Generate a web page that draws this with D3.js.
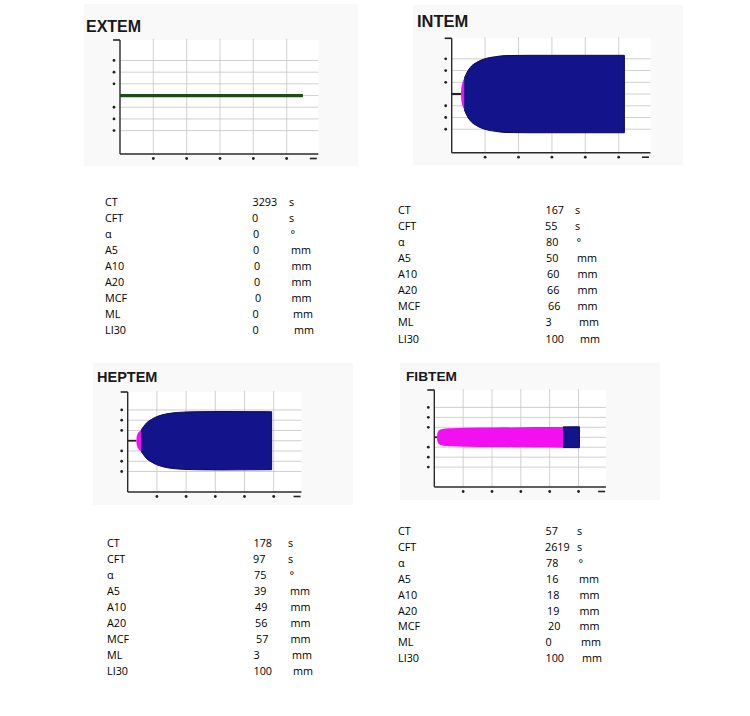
<!DOCTYPE html>
<html>
<head>
<meta charset="utf-8">
<script src="https://d3js.org/d3.v7.min.js"></script>
<style>
  body { margin: 0; background: #ffffff; }
  .title { font-family: "Liberation Sans", Arial, sans-serif; font-weight: bold; fill: #1a1a1a; }
  .tbl { font-family: "Open Sans", sans-serif; font-size: 10.8px; fill: #000; }
</style>
</head>
<body>
<div id="chart"></div>
<script>
// parameter table
var params = ["CT", "CFT", "α", "A5", "A10", "A20", "MCF", "ML", "LI30"];
var units = ["s", "s", "°", "mm", "mm", "mm", "mm", "mm", "mm"];

var extemValues = [3293, 0, 0, 0, 0, 0, 0, 0, 0];
var intemValues = [167, 55, 80, 50, 60, 66, 66, 3, 100];
var heptemValues = [178, 97, 75, 39, 49, 56, 57, 3, 100];
var fibtemValues = [57, 2619, 78, 16, 18, 19, 20, 0, 100];

// temogram amplitude: [minutes, mm]
var extemCurve = [];
var intemCurve = [[2.78, 0], [2.85, 8], [3.0, 14], [3.3, 21], [3.7, 26], [4.5, 36], [5.5, 45],
  [7.5, 54], [10.5, 61], [13, 63.5], [16, 65.5], [22.8, 66], [40, 66], [51.7, 66]];
var heptemCurve = [[2.97, 0], [3.05, 7], [3.3, 12], [3.8, 17], [4.58, 21], [5.5, 28], [6.5, 35],
  [8, 41], [10, 47], [13, 52], [17, 55], [23, 56.5], [32, 57], [49.3, 56.5]];
var fibtemCurve = [[0.95, 0], [1.0, 6], [1.2, 10], [1.7, 14], [2.5, 16], [4, 17.5], [6, 18],
  [11, 19], [21, 19.5], [35, 20.5], [50.3, 21]];

// axis ticks (minutes / mm)
var xTicks = [10, 20, 30, 40, 50];
var xEndTick = 58;
var yTicks = [-60, -40, -20, 20, 40, 60];
var yGrid = [-60, -40, -20, 0, 20, 40, 60];

// shared little offsets of the table columns
var valueDx = [0.5, 0, 1, 1, 2, 2, 3, 0.5, 0.5];
var unitDx = [0, 0, 1.5, 2, 2.5, 2.5, 2.5, 4, 5];

var panels = [
  { name: "EXTEM", values: extemValues, curve: extemCurve, base: "#1f4c16", baseW: 3.2,
    box: [84, 4, 274, 162], title: [86, 32, 16],
    x0: 120, step: 33.33, yTop: 40, yBot: 154,
    tbl: { x: 105, y: 206.4, dy: 15.9, vx: 252, ux: 289 } },
  { name: "INTEM", values: intemValues, curve: intemCurve, base: "#222", baseW: 2.2,
    box: [413, 5, 270, 160], title: [417, 27, 16.5],
    x0: 451.7, step: 33.4, yTop: 38.3, yBot: 152.7,
    tbl: { x: 398, y: 213.7, dy: 16.1, vx: 545, ux: 575 } },
  { name: "HEPTEM", values: heptemValues, curve: heptemCurve, base: "#222", baseW: 1.8,
    box: [93, 363, 260, 142], title: [97, 382, 14.5],
    x0: 127.7, step: 29.2, yTop: 392, yBot: 492,
    tbl: { x: 107, y: 547, dy: 16.05, vx: 253, ux: 288 } },
  { name: "FIBTEM", values: fibtemValues, curve: fibtemCurve, base: "#222", baseW: 1.8,
    box: [400, 363, 260, 137], title: [406, 381, 13.7],
    x0: 434.3, step: 28.85, yTop: 390, yBot: 487,
    tbl: { x: 398, y: 535.4, dy: 15.83, vx: 545, ux: 577 } }
];

var svg = d3.select("#chart")
  .append("svg")
    .attr("width", 750)
    .attr("height", 716);

var blue = "#13138c";
var pink = "#f20ff0";

panels.forEach(function (p, i) {
  var g = svg.append("g");

  var x = d3.scaleLinear()
    .domain([0, 60])
    .range([p.x0, p.x0 + 6 * p.step]);

  var y = d3.scaleLinear()
    .domain([-100, 95])
    .range([p.yBot, p.yTop]);

  // faint panel background
  g.append("rect")
    .attr("x", p.box[0])
    .attr("y", p.box[1])
    .attr("width", p.box[2])
    .attr("height", p.box[3])
    .attr("fill", "#f9f9f9");

  g.append("rect")
    .attr("x", p.x0)
    .attr("y", p.yTop)
    .attr("width", x(59.5) - p.x0)
    .attr("height", p.yBot - p.yTop)
    .attr("fill", "#ffffff");

  g.append("text")
    .attr("class", "title")
    .attr("x", p.title[0])
    .attr("y", p.title[1])
    .style("font-size", p.title[2] + "px")
    .text(p.name);

  // grid
  g.append("g")
    .selectAll("line")
    .data(xTicks)
    .enter()
      .append("line")
      .attr("x1", d => x(d))
      .attr("x2", d => x(d))
      .attr("y1", y(97))
      .attr("y2", y(-100))
      .attr("stroke", "#c4c4c4")
      .attr("stroke-width", 0.8);

  g.append("g")
    .selectAll("line")
    .data(yGrid)
    .enter()
      .append("line")
      .attr("x1", x(0))
      .attr("x2", x(59.5))
      .attr("y1", d => y(d))
      .attr("y2", d => y(d))
      .attr("stroke", "#c4c4c4")
      .attr("stroke-width", 0.8);

  // axes
  g.append("line")
    .attr("x1", x(0)).attr("x2", x(0))
    .attr("y1", y(95)).attr("y2", y(-100))
    .attr("stroke", "#2a2a2a")
    .attr("stroke-width", 1.4);

  g.append("line")
    .attr("x1", x(0)).attr("x2", x(59.5))
    .attr("y1", y(-100)).attr("y2", y(-100))
    .attr("stroke", "#2a2a2a")
    .attr("stroke-width", 1.4);

  // tick marks: dots, and a dash at the ends
  g.append("g")
    .selectAll("circle")
    .data(xTicks)
    .enter()
      .append("circle")
      .attr("cx", d => x(d))
      .attr("cy", y(-100) + 4.5)
      .attr("r", 1.4)
      .attr("fill", "#222");

  g.append("line")
    .attr("x1", x(xEndTick) - 3.5).attr("x2", x(xEndTick) + 3.5)
    .attr("y1", y(-100) + 4.5).attr("y2", y(-100) + 4.5)
    .attr("stroke", "#222")
    .attr("stroke-width", 1.6);

  g.append("g")
    .selectAll("circle")
    .data(yTicks)
    .enter()
      .append("circle")
      .attr("cx", x(0) - 6)
      .attr("cy", d => y(d))
      .attr("r", 1.4)
      .attr("fill", "#222");

  g.append("line")
    .attr("x1", x(0) - 7).attr("x2", x(0))
    .attr("y1", y(95)).attr("y2", y(95))
    .attr("stroke", "#222")
    .attr("stroke-width", 1.6);

  // baseline until clotting starts (CT)
  var ct = p.values[0] / 60;
  var cftEnd = (p.values[0] + p.values[1]) / 60;

  g.append("line")
    .attr("x1", x(0)).attr("x2", x(ct))
    .attr("y1", y(0)).attr("y2", y(0))
    .attr("stroke", p.base)
    .attr("stroke-width", p.baseW);

  if (p.curve.length) {
    var area = d3.area()
      .x(d => x(d[0]))
      .y0(d => y(-d[1]))
      .y1(d => y(d[1]))
      .curve(d3.curveMonotoneX);

    var defs = g.append("defs");
    defs.append("clipPath")
      .attr("id", "clipPink" + i)
      .append("rect")
        .attr("x", x(ct) - 5)
        .attr("y", y(95))
        .attr("width", x(cftEnd) - x(ct) + 5)
        .attr("height", y(-100) - y(95));
    defs.append("clipPath")
      .attr("id", "clipBlue" + i)
      .append("rect")
        .attr("x", x(cftEnd))
        .attr("y", y(95))
        .attr("width", x(60) - x(cftEnd))
        .attr("height", y(-100) - y(95));

    g.append("path")
      .datum(p.curve)
      .attr("d", area)
      .attr("clip-path", "url(#clipBlue" + i + ")")
      .attr("fill", blue)
      .attr("stroke", "#0a0a55")
      .attr("stroke-width", 1);

    g.append("path")
      .datum(p.curve)
      .attr("d", area)
      .attr("clip-path", "url(#clipPink" + i + ")")
      .attr("fill", pink);
  }

  // parameter table
  var t = g.append("g").attr("class", "tbl");
  params.forEach(function (name, r) {
    var ty = p.tbl.y + r * p.tbl.dy;
    t.append("text")
      .attr("x", p.tbl.x)
      .attr("y", ty)
      .text(name);
    t.append("text")
      .attr("x", p.tbl.vx + valueDx[r])
      .attr("y", ty)
      .text(p.values[r]);
    t.append("text")
      .attr("x", p.tbl.ux + unitDx[r])
      .attr("y", ty)
      .text(units[r]);
  });
});
</script>
</body>
</html>
